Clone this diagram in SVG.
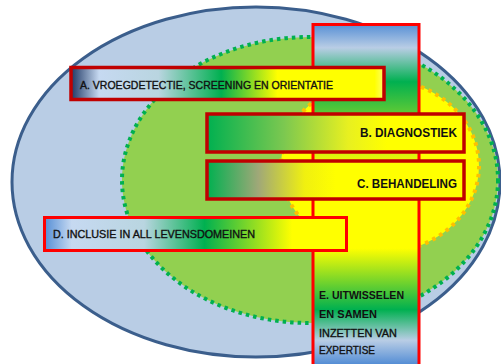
<svg xmlns="http://www.w3.org/2000/svg" width="501" height="364" viewBox="0 0 501 364">
<defs>
<linearGradient id="gE" x1="0" y1="24" x2="0" y2="364" gradientUnits="userSpaceOnUse">
<stop offset="0" stop-color="#558ed5"/>
<stop offset="0.07" stop-color="#b9cde5"/>
<stop offset="0.17" stop-color="#00b050"/>
<stop offset="0.27" stop-color="#66cc33"/>
<stop offset="0.42" stop-color="#ffff00"/>
<stop offset="0.66" stop-color="#ffff00"/>
<stop offset="0.84" stop-color="#00b050"/>
<stop offset="0.93" stop-color="#b9cde5"/>
<stop offset="1" stop-color="#558ed5"/>
</linearGradient>
<linearGradient id="gA" x1="0" y1="0" x2="1" y2="0">
<stop offset="0" stop-color="#1f3864"/>
<stop offset="0.09" stop-color="#c6d9f1"/>
<stop offset="0.28" stop-color="#b9d5e0"/>
<stop offset="0.48" stop-color="#00b050"/>
<stop offset="0.66" stop-color="#ffff00"/>
<stop offset="0.97" stop-color="#ffff00"/>
<stop offset="1" stop-color="#ffff66"/>
</linearGradient>
<linearGradient id="gB" x1="0" y1="0" x2="1" y2="0">
<stop offset="0" stop-color="#00b050"/>
<stop offset="0.3" stop-color="#7cc850"/>
<stop offset="0.55" stop-color="#e8f020"/>
<stop offset="0.7" stop-color="#ffff00"/>
<stop offset="1" stop-color="#ffff00"/>
</linearGradient>
<linearGradient id="gC" x1="0" y1="0" x2="1" y2="0">
<stop offset="0" stop-color="#00b050"/>
<stop offset="0.2" stop-color="#a0a878"/>
<stop offset="0.38" stop-color="#f0f010"/>
<stop offset="0.5" stop-color="#ffff00"/>
<stop offset="1" stop-color="#ffff00"/>
</linearGradient>
<linearGradient id="gD" x1="0" y1="0" x2="1" y2="0">
<stop offset="0" stop-color="#558ed5"/>
<stop offset="0.09" stop-color="#c6d9f1"/>
<stop offset="0.33" stop-color="#b9d5e0"/>
<stop offset="0.53" stop-color="#00b050"/>
<stop offset="0.82" stop-color="#ffff00"/>
<stop offset="1" stop-color="#ffff00"/>
</linearGradient>
</defs>
<style>
.t{font-family:"Liberation Sans",Arial,sans-serif;fill:#111;}
.m{stroke:#111;stroke-width:0.35;}
.b{font-weight:bold;}
.dark{stroke:#c00000;stroke-width:3.5;}
.red{stroke:#ff0000;stroke-width:3;}
</style>
<g id="background">
<ellipse cx="256" cy="182" rx="244" ry="175" fill="#b9cde5" stroke="#3b5e8c" stroke-width="3"/>
<ellipse cx="310" cy="180" rx="188" ry="143" fill="#92d050" stroke="#00b050" stroke-width="4" stroke-dasharray="3.5 4"/>
<ellipse cx="380" cy="166" rx="99" ry="87" fill="#ffff00" stroke="#ffc000" stroke-width="4" stroke-dasharray="3.5 4.5"/>
</g>
<g id="connectors"></g>
<g id="nodeE">
<rect x="313" y="24.5" width="106" height="345" fill="url(#gE)" class="red"/>
<text class="t b" font-size="10.5" x="319" y="299" textLength="85" lengthAdjust="spacingAndGlyphs">E. UITWISSELEN</text>
<text class="t b" font-size="10.5" x="319" y="318" textLength="58" lengthAdjust="spacingAndGlyphs">EN SAMEN</text>
<text class="t m" font-size="10.5" x="319" y="337" textLength="78" lengthAdjust="spacingAndGlyphs">INZETTEN VAN</text>
<text class="t m" font-size="10.5" x="319" y="354" textLength="56" lengthAdjust="spacingAndGlyphs">EXPERTISE</text>
</g>
<g id="nodeA">
<rect x="71" y="67.5" width="313" height="32" fill="url(#gA)" class="dark"/>
<text class="t m" font-size="10.5" x="80" y="89" textLength="253" lengthAdjust="spacingAndGlyphs">A. VROEGDETECTIE, SCREENING EN ORIENTATIE</text>
</g>
<g id="nodeB">
<rect x="207" y="114" width="257" height="38" fill="url(#gB)" class="dark"/>
<text class="t b" font-size="12" x="457" y="137" text-anchor="end" textLength="97" lengthAdjust="spacingAndGlyphs">B. DIAGNOSTIEK</text>
</g>
<g id="nodeC">
<rect x="207" y="161" width="257" height="38" fill="url(#gC)" class="dark"/>
<text class="t b" font-size="12" x="457" y="188" text-anchor="end" textLength="100" lengthAdjust="spacingAndGlyphs">C. BEHANDELING</text>
</g>
<g id="nodeD">
<rect x="44.5" y="217.5" width="302" height="33" fill="url(#gD)" class="red"/>
<text class="t m" font-size="10.5" x="53" y="238" textLength="202" lengthAdjust="spacingAndGlyphs">D. INCLUSIE IN ALL LEVENSDOMEINEN</text>
</g>
</svg>
